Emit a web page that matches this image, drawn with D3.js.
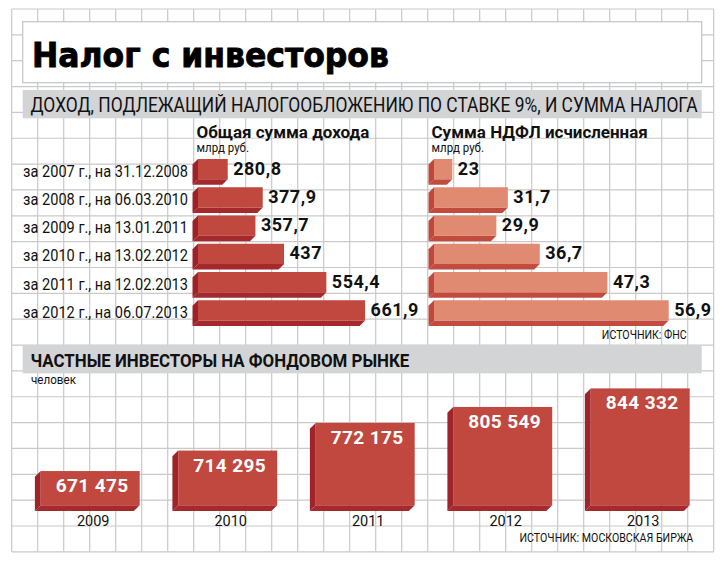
<!DOCTYPE html>
<html>
<head>
<meta charset="utf-8">
<script src="https://cdn.jsdelivr.net/npm/d3@7"></script>
<style>
  body { margin: 0; background: #fff; }
  text { font-family: Roboto, "DejaVu Sans", sans-serif; }
</style>
</head>
<body>
<script>
// data
const periods = ["за 2007 г., на 31.12.2008", "за 2008 г., на 06.03.2010", "за 2009 г., на 13.01.2011",
                 "за 2010 г., на 13.02.2012", "за 2011 г., на 12.02.2013", "за 2012 г., на 06.07.2013"];
const incomeTotal = [280.8, 377.9, 357.7, 437, 554.4, 661.9];
const ndflTotal = [23, 31.7, 29.9, 36.7, 47.3, 56.9];
const years = ["2009", "2010", "2011", "2012", "2013"];
const investors = [671475, 714295, 772175, 805549, 844332];

const ru = d3.formatLocale({decimal: ",", thousands: " ", grouping: [3], currency: ["", " руб."]});
const fmt = ru.format(",");

const W = 725, H = 564;
const svg = d3.select("body").append("svg").attr("width", W).attr("height", H);

// squeeze text to a given width with a horizontal scale (the print font is condensed)
function squeeze(sel, width) {
	sel.each(function() {
		const t = d3.select(this);
		const x = +t.attr("x"), y = +t.attr("y");
		const k = width / this.getComputedTextLength();
		t.attr("x", 0).attr("y", 0).attr("transform", `translate(${x},${y}) scale(${k},1)`);
	});
	return sel;
}

// background grid
const grid = svg.append("g").attr("stroke", "#c9c9c9").attr("stroke-width", 1.2);
const gx = d3.range(28).map(i => 11.7 + i * 26);
const gy = d3.range(22).map(i => 9 + i * 25.85);
grid.selectAll("line.v").data(gx).enter().append("line")
	.attr("x1", d => d).attr("x2", d => d).attr("y1", 9).attr("y2", 551.8);
grid.selectAll("line.h").data(gy).enter().append("line")
	.attr("y1", d => d).attr("y2", d => d).attr("x1", 11.7).attr("x2", 713.7);

// title
svg.append("rect").attr("x", 22.7).attr("y", 21.7).attr("width", 679).attr("height", 61)
	.attr("fill", "#fff").attr("stroke", "#c4c4c4").attr("stroke-width", 1.2);
squeeze(svg.append("text").attr("x", 32).attr("y", 67).text("Налог с инвесторов")
	.style("font-family", "'DejaVu Sans', sans-serif").attr("font-weight", 900).attr("font-size", 34)
	.attr("fill", "#000").attr("stroke", "#000").attr("stroke-width", 0.9), 357);

// section headers
function band(y, h, label, width, bold) {
	svg.append("rect").attr("x", 22.7).attr("y", y).attr("width", 679).attr("height", h).attr("fill", "#d3d4d6");
	squeeze(svg.append("text").attr("x", 30.5).attr("y", y + h - 6.5).text(label)
		.attr("font-size", bold ? 19 : 21).attr("font-weight", bold ? 700 : 400)
		.attr("fill", "#111"), width);
}
band(90, 28.3, "ДОХОД, ПОДЛЕЖАЩИЙ НАЛОГООБЛОЖЕНИЮ ПО СТАВКЕ 9%, И СУММА НАЛОГА", 668, false);
band(345, 28.3, "ЧАСТНЫЕ ИНВЕСТОРЫ НА ФОНДОВОМ РЫНКЕ", 379, true);

function smallText(x, y, s, size, width, anchor, weight) {
	const t = svg.append("text").attr("x", x).attr("y", y).text(s).attr("font-size", size).attr("fill", "#111");
	if (anchor) t.attr("text-anchor", anchor);
	if (weight) t.attr("font-weight", weight);
	return squeeze(t, width);
}

// column headers of the top part
smallText(196.5, 138.3, "Общая сумма дохода", 16.5, 173, null, 700);
smallText(431.5, 138.3, "Сумма НДФЛ исчисленная", 16.5, 216.5, null, 700);
smallText(196.5, 152.3, "млрд руб.", 12, 52.5);
smallText(431.5, 152.3, "млрд руб.", 12, 52.5);

// horizontal 3d bars
const yRow = d3.scalePoint().domain(periods).range([159, 300.25]);
const xIncome = d3.scaleLinear().domain([0, 700]).range([126.5, 378.85]);
const xNdfl = d3.scaleLinear().domain([0, 60]).range([305.5, 688.5]);
const barH = 20.3, depth = 5.5;

function hBars(values, x, start, front, side, bottom) {
	const g = svg.append("g");
	const rows = g.selectAll("g").data(values).enter().append("g");
	rows.append("path").attr("fill", side).attr("d", (d, i) => {
		const y0 = yRow(periods[i]), y1 = y0 + barH;
		return `M${start},${y0}L${start - depth},${y0 + depth}L${start - depth},${y1 + depth}L${start},${y1}Z`;
	});
	rows.append("path").attr("fill", bottom).attr("d", (d, i) => {
		const y1 = yRow(periods[i]) + barH;
		return `M${start},${y1}L${start - depth},${y1 + depth}L${x(d) - depth},${y1 + depth}L${x(d)},${y1}Z`;
	});
	rows.append("rect").attr("fill", front)
		.attr("x", start).attr("y", (d, i) => yRow(periods[i]))
		.attr("width", d => x(d) - start).attr("height", barH);
	rows.append("text").attr("x", d => x(d) + 5.5).attr("y", (d, i) => yRow(periods[i]) + 15.5)
		.text(d => fmt(d)).attr("font-size", 18).attr("font-weight", 700)
		.attr("letter-spacing", 0.5).attr("fill", "#111");
}
hBars(incomeTotal, xIncome, 198, "#c0483e", "#9d2227", "#a5292c");
hBars(ndflTotal, xNdfl, 434, "#e08a72", "#bf473c", "#c24b40");

squeeze(svg.append("g").selectAll("text").data(periods).enter().append("text")
	.attr("x", 188).attr("y", d => yRow(d) + 17.5).attr("text-anchor", "end")
	.text(d => d).attr("font-size", 16).attr("fill", "#111"), 165);

smallText(686.7, 338.5, "ИСТОЧНИК: ФНС", 12.5, 85, "end");

// bottom part: private investors
smallText(31, 383.5, "человек", 12, 45);

const xYear = d3.scalePoint().domain(years).range([40.7, 590.7]);
const yInv = d3.scaleLinear().domain([600000, 850000]).range([505.2, 385.7]);
const colW = 99, cd = 5.8;
const cols = svg.append("g").selectAll("g").data(investors).enter().append("g");
cols.append("path").attr("fill", "#9f2328").attr("d", (d, i) => {
	const x0 = xYear(years[i]), y0 = yInv(d), y1 = yInv.range()[0];
	return `M${x0},${y0}L${x0 - cd},${y0 + cd}L${x0 - cd},${y1 + cd}L${x0},${y1}Z`;
});
cols.append("path").attr("fill", "#a7292d").attr("d", (d, i) => {
	const x0 = xYear(years[i]), y1 = yInv.range()[0];
	return `M${x0},${y1}L${x0 - cd},${y1 + cd}L${x0 + colW - cd},${y1 + cd}L${x0 + colW},${y1}Z`;
});
cols.append("rect").attr("fill", "#c0483e")
	.attr("x", (d, i) => xYear(years[i])).attr("y", d => yInv(d))
	.attr("width", colW).attr("height", d => yInv.range()[0] - yInv(d));
cols.append("text").attr("text-anchor", "middle")
	.attr("x", (d, i) => xYear(years[i]) + colW / 2 + 2).attr("y", d => yInv(d) + 21)
	.text(d => fmt(d)).attr("font-size", 19).attr("font-weight", 700)
	.attr("letter-spacing", 0.4).attr("fill", "#fff");
cols.append("text").attr("text-anchor", "middle")
	.attr("x", (d, i) => xYear(years[i]) + colW / 2 + 3).attr("y", 526)
	.text((d, i) => years[i]).attr("font-size", 14.5).attr("fill", "#111");

smallText(693.3, 541.7, "ИСТОЧНИК: МОСКОВСКАЯ БИРЖА", 13, 174, "end");
</script>
</body>
</html>
